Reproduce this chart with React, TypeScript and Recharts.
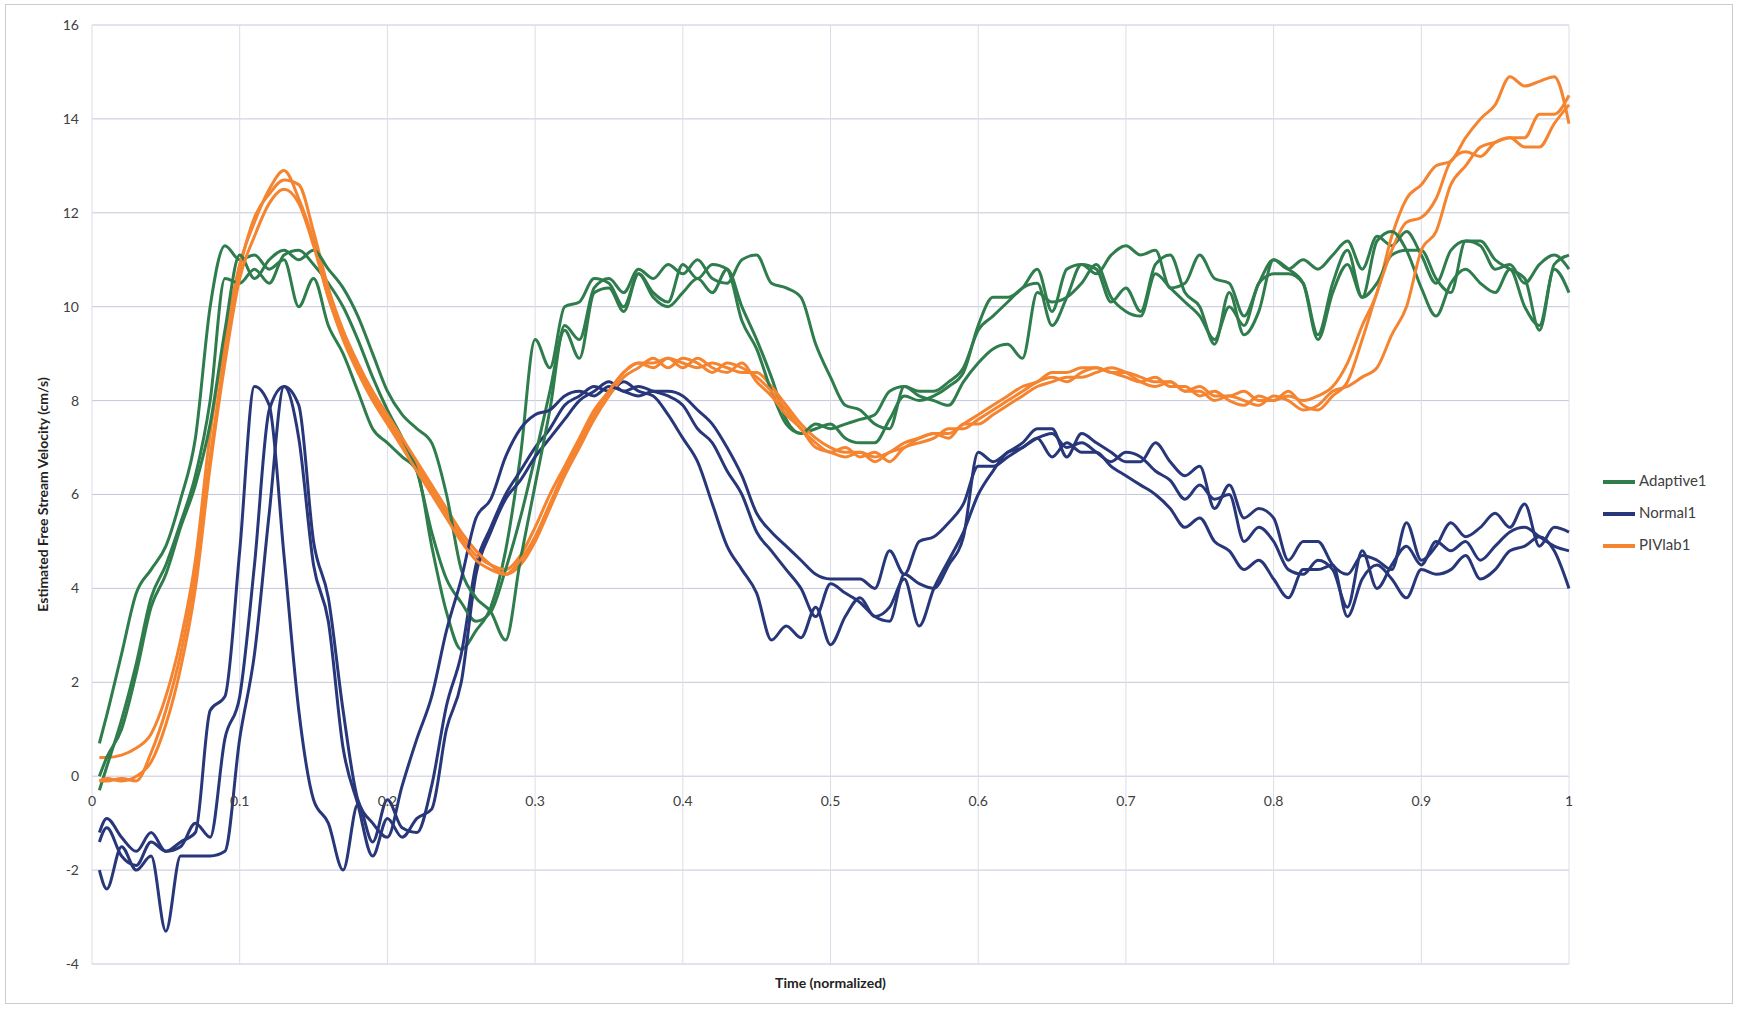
import React from "react"
import { LineChart, Line, XAxis, YAxis, CartesianGrid, Legend, Label } from "recharts"

// normalized time grid shared by every run
const TIME = [
  0.005, 0.01, 0.02, 0.03, 0.04, 0.05, 0.06, 0.07, 0.08, 0.09,
  0.1, 0.11, 0.12, 0.13, 0.14, 0.15, 0.16, 0.17, 0.18, 0.19,
  0.2, 0.21, 0.22, 0.23, 0.24, 0.25, 0.26, 0.27, 0.28, 0.29,
  0.3, 0.31, 0.32, 0.33, 0.34, 0.35, 0.36, 0.37, 0.38, 0.39,
  0.4, 0.41, 0.42, 0.43, 0.44, 0.45, 0.46, 0.47, 0.48, 0.49,
  0.5, 0.51, 0.52, 0.53, 0.54, 0.55, 0.56, 0.57, 0.58, 0.59,
  0.6, 0.61, 0.62, 0.63, 0.64, 0.65, 0.66, 0.67, 0.68, 0.69,
  0.7, 0.71, 0.72, 0.73, 0.74, 0.75, 0.76, 0.77, 0.78, 0.79,
  0.8, 0.81, 0.82, 0.83, 0.84, 0.85, 0.86, 0.87, 0.88, 0.89,
  0.9, 0.91, 0.92, 0.93, 0.94, 0.95, 0.96, 0.97, 0.98, 0.99,
  1.0,
]

const ADAPTIVE_1 = [
  0.7, 1.3, 2.6, 3.9, 4.4, 4.9, 5.9, 7.2, 10.0, 11.3,
  11.0, 11.1, 10.8, 11.0, 10.0, 10.6, 9.6, 9.0, 8.2, 7.4,
  7.1, 6.8, 6.5, 4.9, 3.5, 2.7, 3.1, 3.6, 4.8, 6.8,
  9.3, 8.7, 10.0, 10.1, 10.6, 10.5, 10.0, 10.7, 10.2, 10.0,
  10.3, 10.6, 10.3, 10.8, 10.0, 9.3, 8.5, 7.6, 7.3, 7.4,
  7.5, 7.2, 7.1, 7.1, 7.6, 8.1, 8.0, 8.1, 8.3, 8.6,
  9.6, 10.2, 10.2, 10.4, 10.8, 9.9, 10.8, 10.9, 10.7, 11.1,
  11.3, 11.1, 11.2, 10.4, 10.5, 11.1, 10.6, 10.5, 9.8, 10.5,
  11.0, 10.8, 11.0, 10.8, 11.1, 11.4, 10.8, 11.5, 11.3, 11.6,
  11.1, 10.5, 11.2, 11.4, 11.3, 10.8, 10.9, 10.5, 10.9, 11.1,
  10.8,
]
const ADAPTIVE_2 = [
  -0.3, 0.2, 1.2, 2.4, 3.8, 4.5, 5.4, 6.4, 8.0, 10.6,
  10.5, 10.8, 10.5, 11.1, 11.2, 10.9, 10.5, 10.0, 9.3, 8.5,
  7.8, 7.2, 6.5, 5.2, 4.2, 3.7, 3.3, 3.5, 4.4, 5.5,
  6.8, 8.2, 9.5, 8.9, 10.3, 10.4, 9.9, 10.7, 10.3, 10.1,
  10.9, 10.6, 10.9, 10.8, 9.7, 9.1, 8.2, 7.5, 7.3, 7.5,
  7.4, 7.5, 7.6, 7.7, 8.2, 8.3, 8.1, 8.0, 7.9, 8.4,
  8.8, 9.1, 9.2, 8.9, 10.3, 10.1, 10.2, 10.5, 10.9, 10.2,
  9.9, 9.8, 10.7, 10.4, 10.1, 9.8, 9.3, 10.0, 9.6, 10.5,
  10.7, 10.7, 10.5, 9.4, 10.5, 11.2, 10.2, 10.5, 11.1, 11.2,
  11.2, 10.6, 10.3, 11.4, 11.4, 11.0, 10.8, 10.6, 9.5, 10.9,
  11.1,
]
const ADAPTIVE_3 = [
  0.0, 0.4, 1.0, 2.2, 3.6, 4.3, 5.3, 6.2, 7.5, 9.5,
  11.1, 10.6, 11.0, 11.2, 11.0, 11.2, 10.8, 10.4, 9.8, 9.0,
  8.2, 7.7, 7.4, 7.1, 6.0, 4.4, 3.8, 3.5, 2.9, 4.6,
  6.2, 7.8, 9.6, 9.3, 10.4, 10.6, 10.3, 10.8, 10.6, 10.9,
  10.7, 11.0, 10.6, 10.5, 11.0, 11.1, 10.5, 10.4, 10.2, 9.2,
  8.5, 7.9, 7.8, 7.5, 7.4, 8.3, 8.2, 8.2, 8.4, 8.7,
  9.5, 9.8, 10.1, 10.4, 10.5, 9.6, 10.2, 10.9, 10.8, 10.1,
  10.4, 9.9, 10.9, 11.1, 10.3, 10.0, 9.2, 10.3, 9.4, 9.9,
  11.0, 10.8, 10.5, 9.3, 10.3, 10.9, 10.2, 11.4, 11.6, 11.2,
  10.4, 9.8, 10.5, 10.8, 10.5, 10.3, 10.8, 10.0, 9.6, 10.8,
  10.3,
]

const NORMAL_1 = [
  -1.2, -0.9, -1.3, -1.6, -1.2, -1.6, -1.4, -1.2, 1.4, 1.7,
  4.8, 8.3, 7.9, 4.7, 1.4, -0.5, -1.0, -2.0, -0.6, -1.4,
  -0.5, -1.1, -1.2, -0.2, 1.5, 2.6, 4.5, 5.3, 6.0, 6.5,
  7.0, 7.4, 7.9, 8.1, 8.3, 8.2, 8.4, 8.2, 8.1, 7.7,
  7.2, 6.7, 5.8, 4.9, 4.4, 3.9, 2.9, 3.2, 2.95, 3.6,
  2.8, 3.4, 3.8, 3.4, 3.6, 4.2, 3.2, 4.0, 4.6, 5.2,
  6.0, 6.5, 6.9, 7.0, 7.2, 6.8, 7.1, 6.9, 6.9, 6.6,
  6.4, 6.2, 6.0, 5.7, 5.3, 5.5, 5.0, 4.8, 4.4, 4.6,
  4.2, 3.8, 4.4, 4.4, 4.5, 3.4, 4.2, 4.5, 4.2, 3.8,
  4.4, 4.3, 4.4, 4.7, 4.2, 4.4, 4.8, 4.9, 5.1, 4.8,
  4.0,
]
const NORMAL_2 = [
  -1.4, -1.1, -1.7, -1.9, -1.4, -1.6, -1.5, -1.0, -1.3, 0.8,
  1.7, 4.5, 7.8, 8.3, 7.2, 4.5, 3.3, 0.6, -0.6, -1.7,
  -0.9, -1.3, -0.9, -0.7, 1.0, 2.0, 4.3, 5.2, 5.9, 6.3,
  6.8, 7.2, 7.6, 8.0, 8.2, 8.4, 8.2, 8.3, 8.2, 8.1,
  7.9, 7.4, 7.1, 6.5, 6.0, 5.2, 4.8, 4.4, 4.0, 3.4,
  4.1, 3.9, 3.7, 3.4, 3.3, 4.3, 4.1, 4.0, 4.5, 5.1,
  6.9, 6.7, 6.9, 7.1, 7.4, 7.4, 6.8, 7.3, 7.1, 6.9,
  6.7, 6.7, 7.1, 6.7, 6.4, 6.6, 5.7, 6.2, 5.5, 5.7,
  5.5, 4.6, 5.0, 5.0, 4.5, 4.3, 4.7, 4.6, 4.4, 5.4,
  4.6, 4.9, 5.4, 5.1, 5.3, 5.6, 5.3, 5.8, 4.9, 5.3,
  5.2,
]
const NORMAL_3 = [
  -2.0, -2.4, -1.5, -2.0, -1.7, -3.3, -1.7, -1.7, -1.7, -1.6,
  0.8, 2.6, 5.6, 8.3, 7.9, 5.0, 3.8, 1.4, -0.5, -1.0,
  -1.3, -0.2, 0.8, 1.7, 3.1, 4.2, 5.5, 5.9, 6.8, 7.4,
  7.7, 7.8, 8.1, 8.2, 8.1, 8.3, 8.2, 8.1, 8.2, 8.2,
  8.1, 7.8, 7.5, 7.0, 6.4, 5.6, 5.2, 4.9, 4.6, 4.3,
  4.2, 4.2, 4.2, 4.0, 4.8, 4.3, 5.0, 5.1, 5.4, 5.8,
  6.6, 6.6, 6.8, 7.0, 7.2, 7.3, 7.0, 7.1, 6.9, 6.7,
  6.9, 6.8, 6.5, 6.3, 5.9, 6.2, 5.9, 6.0, 5.0, 5.3,
  5.0, 4.4, 4.3, 4.6, 4.4, 3.6, 4.8, 4.0, 4.5, 4.9,
  4.5, 5.0, 4.8, 5.0, 4.6, 4.9, 5.2, 5.3, 5.1, 4.9,
  4.8,
]

const PIVLAB_1 = [
  0.4, 0.4, 0.45, 0.6, 0.9, 1.7, 2.9, 4.6, 7.3, 9.3,
  10.9, 11.8, 12.5, 12.9, 12.3, 11.4, 10.2, 9.4, 8.7, 8.1,
  7.6, 7.1, 6.6, 6.1, 5.6, 5.1, 4.7, 4.5, 4.4, 4.7,
  5.3, 6.0, 6.6, 7.2, 7.8, 8.2, 8.6, 8.8, 8.8, 8.9,
  8.8, 8.7, 8.8, 8.7, 8.6, 8.6, 8.3, 7.9, 7.5, 7.2,
  7.0, 6.9, 6.9, 6.8, 6.9, 7.1, 7.2, 7.3, 7.3, 7.5,
  7.7, 7.9, 8.1, 8.3, 8.4, 8.6, 8.6, 8.7, 8.7, 8.6,
  8.6, 8.5, 8.4, 8.4, 8.2, 8.3, 8.1, 8.1, 8.2, 8.0,
  8.0, 8.1, 8.0, 8.1, 8.3, 8.8, 9.6, 10.3, 11.5, 12.3,
  12.6, 13.0, 13.1, 13.6, 14.0, 14.3, 14.9, 14.7, 14.8, 14.9,
  13.9,
]
const PIVLAB_2 = [
  -0.1, -0.1, -0.05, -0.1, 0.5, 1.4, 2.6, 4.3, 6.8, 9.0,
  10.8, 11.9, 12.4, 12.7, 12.6, 11.6, 10.4, 9.5, 8.8, 8.2,
  7.7, 7.2, 6.7, 6.2, 5.7, 5.2, 4.8, 4.5, 4.3, 4.5,
  5.0, 5.7, 6.4, 7.0, 7.6, 8.1, 8.5, 8.7, 8.9, 8.7,
  8.9, 8.8, 8.6, 8.8, 8.7, 8.5, 8.2, 7.8, 7.4, 7.1,
  6.9, 7.0, 6.8, 6.9, 6.7, 7.0, 7.1, 7.2, 7.4, 7.4,
  7.6, 7.8, 8.0, 8.2, 8.4, 8.5, 8.4, 8.6, 8.7, 8.6,
  8.5, 8.4, 8.5, 8.3, 8.3, 8.1, 8.2, 8.0, 7.9, 8.1,
  8.0, 8.2, 7.9, 7.8, 8.1, 8.4, 9.3, 10.3, 11.2, 11.8,
  11.9, 12.3, 13.1, 13.3, 13.2, 13.5, 13.6, 13.6, 14.1, 14.1,
  14.5,
]
const PIVLAB_3 = [
  -0.1, -0.05, -0.1, 0.0, 0.3, 1.1, 2.3, 4.0, 6.6, 8.8,
  10.6, 11.5, 12.2, 12.5, 12.2, 11.3, 10.2, 9.3, 8.6, 8.0,
  7.5, 7.0, 6.5, 6.0, 5.5, 5.0, 4.6, 4.4, 4.3, 4.6,
  5.1, 5.8, 6.5, 7.1, 7.7, 8.2, 8.6, 8.8, 8.7, 8.9,
  8.7, 8.9, 8.7, 8.6, 8.8, 8.4, 8.1, 7.7, 7.4, 7.0,
  6.9, 6.8, 6.9, 6.7, 6.9, 7.0, 7.2, 7.3, 7.2, 7.5,
  7.5, 7.7, 7.9, 8.1, 8.3, 8.4, 8.5, 8.5, 8.6, 8.7,
  8.6, 8.4, 8.3, 8.4, 8.2, 8.2, 8.0, 8.1, 8.0, 7.9,
  8.1, 8.0, 7.8, 7.9, 8.2, 8.3, 8.5, 8.7, 9.4, 10.0,
  11.2, 11.6, 12.6, 13.0, 13.4, 13.5, 13.6, 13.4, 13.4, 13.9,
  14.3,
]

const X_TICKS = [0, 0.1, 0.2, 0.3, 0.4, 0.5, 0.6, 0.7, 0.8, 0.9, 1]
const Y_TICKS = [-4, -2, 0, 2, 4, 6, 8, 10, 12, 14, 16]

const GREEN = "#2f7d4c"
const NAVY = "#28377a"
const ORANGE = "#f58430"

// drawn in the same interleaved order as the original workbook
const SERIES = [
  { key: "Adaptive1", values: ADAPTIVE_1, color: GREEN, legend: true },
  { key: "Normal1", values: NORMAL_1, color: NAVY, legend: true },
  { key: "PIVlab1", values: PIVLAB_1, color: ORANGE, legend: true },
  { key: "Adaptive2", values: ADAPTIVE_2, color: GREEN, legend: false },
  { key: "Normal2", values: NORMAL_2, color: NAVY, legend: false },
  { key: "PIVlab2", values: PIVLAB_2, color: ORANGE, legend: false },
  { key: "Adaptive3", values: ADAPTIVE_3, color: GREEN, legend: false },
  { key: "Normal3", values: NORMAL_3, color: NAVY, legend: false },
  { key: "PIVlab3", values: PIVLAB_3, color: ORANGE, legend: false },
]

const W = 1726
const H = 998
const LEGEND_W = 128
// recharts takes the legend width off the plot, so the right margin is what is left over
const MARGIN = { top: 20, right: 35, bottom: 9, left: 26 }
const Y_AXIS_W = 60
const X_AXIS_H = 30
const Y_MIN = -4
const Y_MAX = 16
const PLOT_H = H - MARGIN.top - MARGIN.bottom - X_AXIS_H
// the category labels sit just under the zero line, like Excel's crossing axis
const ZERO_Y = MARGIN.top + (PLOT_H * Y_MAX) / (Y_MAX - Y_MIN)

const FONT = "Lato, 'Open Sans', sans-serif"
const TEXT = "#404040"

function TimeTick(props: any) {
  const { x, payload } = props
  return (
    <text x={x} y={ZERO_Y + 26} textAnchor="middle" dominantBaseline="middle" fill={TEXT} fontSize={14}>
      {String(payload.value)}
    </text>
  )
}

function YTitle(props: any) {
  const vb = props.viewBox
  const cx = vb.x + 12
  const cy = vb.y + vb.height / 2
  return (
    <text
      x={cx}
      y={cy}
      transform={`rotate(-90 ${cx} ${cy})`}
      textAnchor="middle"
      dominantBaseline="middle"
      fill="#222"
      fontSize={14}
      fontWeight="bold"
    >
      Estimated Free Stream Velocity (cm/s)
    </text>
  )
}

export default function App() {
  const data = TIME.map((t, i) => {
    const row: Record<string, number> = { t }
    SERIES.forEach((s) => {
      row[s.key] = s.values[i]
    })
    return row
  })

  return (
    <div
      style={{
        position: "absolute",
        left: 6,
        top: 5,
        width: W,
        height: H,
        outline: "1px solid #c9cad4",
        background: "#fff",
        fontFamily: FONT,
      }}
    >
      <LineChart width={W} height={H} data={data} margin={MARGIN}>
        <CartesianGrid horizontal={true} vertical={false} stroke="#c4c7da" />
        <CartesianGrid horizontal={false} vertical={true} stroke="#dcdde8" />
        <XAxis
          dataKey="t"
          type="number"
          domain={[0, 1]}
          ticks={X_TICKS}
          height={X_AXIS_H}
          axisLine={false}
          tickLine={false}
          tick={<TimeTick />}
          interval={0}
        >
          <Label
            value="Time (normalized)"
            position="insideBottom"
            offset={6}
            fill="#222"
            fontSize={14}
            fontWeight="bold"
          />
        </XAxis>
        <YAxis
          type="number"
          domain={[Y_MIN, Y_MAX]}
          ticks={Y_TICKS}
          width={Y_AXIS_W}
          axisLine={false}
          tickLine={false}
          tickSize={0}
          tickMargin={13}
          tick={{ fill: TEXT, fontSize: 14 }}
          interval={0}
        >
          <Label content={<YTitle />} />
        </YAxis>
        <Legend
          layout="vertical"
          align="right"
          verticalAlign="middle"
          iconType="plainline"
          iconSize={32}
          wrapperStyle={{ left: 1597, top: 461, width: LEGEND_W }}
          formatter={(value: string) => (
            <span style={{ color: TEXT, fontSize: 15 }}>{value}</span>
          )}
        />
        {SERIES.map((s) => (
          <Line
            key={s.key}
            type="monotone"
            dataKey={s.key}
            name={s.key}
            stroke={s.color}
            strokeWidth={3}
            strokeLinejoin="round"
            dot={false}
            activeDot={false}
            legendType={s.legend ? "plainline" : "none"}
            isAnimationActive={false}
          />
        ))}
      </LineChart>
    </div>
  )
}
